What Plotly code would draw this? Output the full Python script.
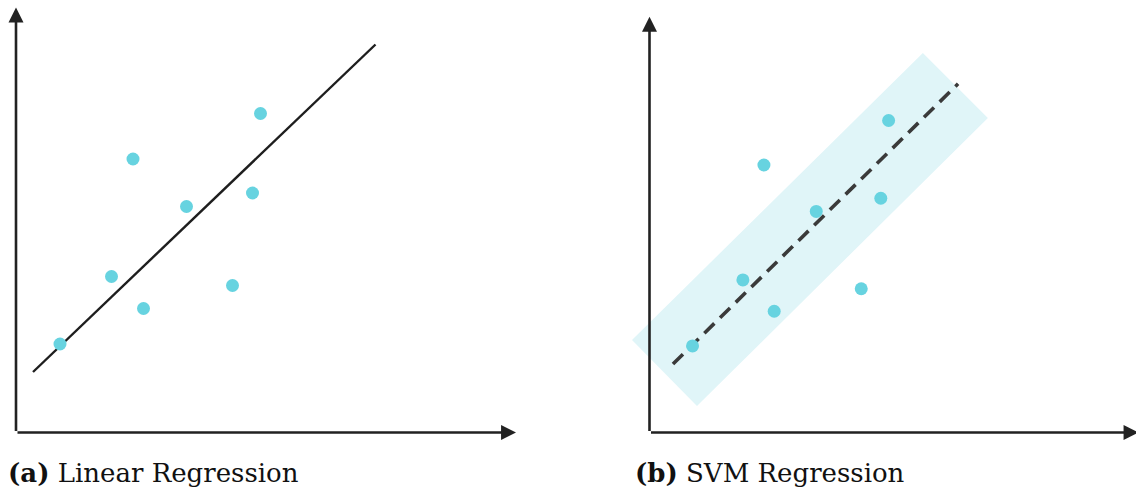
import plotly.graph_objects as go

# ---- data (shared by both panels, arbitrary units) ----
pts_x = [0.88, 1.91, 2.55, 2.34, 3.41, 4.33, 4.73, 4.89]
pts_y = [1.77, 3.12, 2.48, 5.47, 4.52, 2.94, 4.79, 6.38]

# linear regression fit line (panel a)
lin_x = [0.34, 7.19]
lin_y = [1.21, 7.76]

# SVM regression centre line and epsilon tube (panel b)
svm_x = [0.48, 6.31]
svm_y = [1.40, 7.13]
tube_x = [-0.358, 0.971, 6.92, 5.59, -0.358]
tube_y = [1.892, 0.542, 6.43, 7.76, 1.892]

axis_len_x = 10.0
axis_len_y = 8.5

captions = ["<b>(a)</b> Linear Regression", "<b>(b)</b> SVM Regression"]

PT_COLOR = "#67D3E0"
TUBE_COLOR = "#E0F5F8"
AXIS_COLOR = "#222222"

W, H = 1136, 490

fig = go.Figure()

# panel b tube
fig.add_trace(go.Scatter(x=tube_x, y=tube_y, xaxis="x2", yaxis="y2", mode="lines",
                         fill="toself", fillcolor=TUBE_COLOR, line=dict(width=0),
                         hoverinfo="skip", showlegend=False))
# panel a line
fig.add_trace(go.Scatter(x=lin_x, y=lin_y, xaxis="x", yaxis="y", mode="lines",
                         line=dict(color="#1e1e1e", width=2.4), showlegend=False))
# panel b dashed line
fig.add_trace(go.Scatter(x=svm_x, y=svm_y, xaxis="x2", yaxis="y2", mode="lines",
                         line=dict(color="#3a3a3a", width=3.6, dash="14px,8px"),
                         showlegend=False))
# points
fig.add_trace(go.Scatter(x=pts_x, y=pts_y, xaxis="x", yaxis="y", mode="markers",
                         marker=dict(color=PT_COLOR, size=13, line=dict(width=0)),
                         showlegend=False))
fig.add_trace(go.Scatter(x=pts_x, y=pts_y, xaxis="x2", yaxis="y2", mode="markers",
                         marker=dict(color=PT_COLOR, size=13, line=dict(width=0)),
                         showlegend=False))

# axis scales: panel a 50 px/unit, panel b 48.9 px/unit
def rng(origin_px, start_px, end_px, s):
    return [-(origin_px - start_px) / s, (end_px - origin_px) / s]

sa, sb = 50.0, 48.9
hidden = dict(visible=False, showgrid=False, zeroline=False, fixedrange=True)
fig.update_layout(
    width=W, height=H,
    margin=dict(l=0, r=0, t=0, b=0),
    paper_bgcolor="white", plot_bgcolor="white",
    xaxis=dict(domain=[0, 0.5], range=rng(16, 0, 568, sa), **hidden),
    yaxis=dict(domain=[0, 1], range=rng(57.5, 0, 490, sa), **hidden),
    xaxis2=dict(domain=[0.5, 1], range=rng(649.5, 568, 1136, sb), anchor="y2", **hidden),
    yaxis2=dict(domain=[0, 1], range=rng(57.5, 0, 490, sb), anchor="x2", **hidden),
)

anns = []
for xr, yr in (("x", "y"), ("x2", "y2")):
    anns.append(dict(x=axis_len_x, y=0, ax=0, ay=0, xref=xr, yref=yr, axref=xr, ayref=yr,
                     text="", showarrow=True, arrowhead=2, arrowsize=1.15, arrowwidth=2.6,
                     arrowcolor=AXIS_COLOR))
    anns.append(dict(x=0, y=axis_len_y, ax=0, ay=0, xref=xr, yref=yr, axref=xr, ayref=yr,
                     text="", showarrow=True, arrowhead=2, arrowsize=1.15, arrowwidth=2.6,
                     arrowcolor=AXIS_COLOR))

for txt, xp in zip(captions, [6, 633]):
    anns.append(dict(x=xp / W, y=(H - 473) / H, xref="paper", yref="paper",
                     xanchor="left", yanchor="middle", showarrow=False, text=txt,
                     font=dict(family="DejaVu Serif", size=26, color="#111111")))
fig.update_layout(annotations=anns)

fig.write_html("out.html", config={"displayModeBar": False},
               post_script="document.body.style.margin='0';")
